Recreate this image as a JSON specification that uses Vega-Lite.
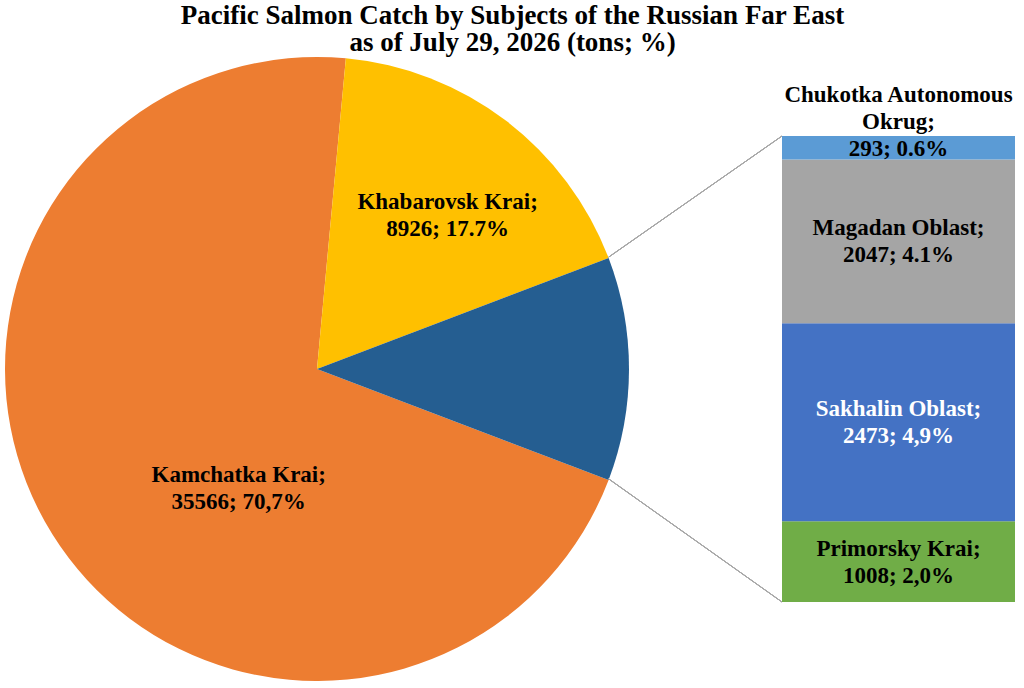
{
  "$schema": "https://vega.github.io/schema/vega-lite/v6.json",
  "description": "Pacific salmon catch by subjects of the Russian Far East, pie of bar.",
  "background": "white",
  "padding": {"left": 0, "top": 2, "right": 0, "bottom": 0},
  "title": {
    "text": ["Pacific Salmon Catch by Subjects of the Russian Far East", "as of July 29, 2026 (tons; %)"],
    "font": "Liberation Serif",
    "fontSize": 27,
    "fontWeight": "bold",
    "color": "black",
    "lineHeight": 27,
    "anchor": "middle",
    "offset": 0,
    "dx": 5
  },
  "datasets": {
    "catch": [
      {"region": "Kamchatka Krai", "tons": 35566, "share": "70,7%"},
      {"region": "Khabarovsk Krai", "tons": 8926, "share": "17.7%"},
      {"region": "Primorsky Krai", "tons": 1008, "share": "2,0%"},
      {"region": "Sakhalin Oblast", "tons": 2473, "share": "4,9%"},
      {"region": "Magadan Oblast", "tons": 2047, "share": "4.1%"},
      {"region": "Chukotka Autonomous Okrug", "tons": 293, "share": "0.6%"}
    ]
  },
  "data": {"name": "catch"},
  "config": {
    "view": {"stroke": null},
    "text": {"font": "Liberation Serif", "fontWeight": "bold", "fontSize": 23, "lineHeight": 27, "baseline": "middle", "align": "center"}
  },
  "spacing": 148,
  "bounds": "flush",
  "center": true,
  "hconcat": [
    {
      "width": 634,
      "height": 624,
      "transform": [
        {"calculate": "indexof(['Kamchatka Krai', 'Khabarovsk Krai'], datum.region) >= 0 ? datum.region : 'Other'", "as": "slice"},
        {"calculate": "datum.slice == 'Other' ? '' : datum.region + ';\\n' + datum.tons + '; ' + datum.share", "as": "label"},
        {"aggregate": [{"op": "sum", "field": "tons", "as": "tons"}], "groupby": ["slice", "label"]},
        {"calculate": "indexof(['Khabarovsk Krai', 'Other', 'Kamchatka Krai'], datum.slice)", "as": "rank"}
      ],
      "encoding": {
        "theta": {"field": "tons", "type": "quantitative", "stack": true, "scale": {"range": [0.0926, 6.3758]}},
        "order": {"field": "rank", "type": "quantitative"},
        "detail": {"field": "slice", "type": "nominal"}
      },
      "layer": [
        {
          "mark": {"type": "arc", "outerRadius": 312},
          "encoding": {
            "color": {
              "field": "slice",
              "type": "nominal",
              "legend": null,
              "scale": {
                "domain": ["Kamchatka Krai", "Khabarovsk Krai", "Other", "Primorsky Krai", "Sakhalin Oblast", "Magadan Oblast", "Chukotka Autonomous Okrug"],
                "range": ["#ED7D31", "#FFC000", "#255E91", "#70AD47", "#4472C4", "#A5A5A5", "#5B9BD5"]
              }
            }
          }
        },
        {
          "mark": {"type": "text", "radius": 201, "dx": 9, "dy": -7, "lineBreak": "\n"},
          "encoding": {
            "text": {"condition": {"test": "datum.slice == 'Khabarovsk Krai'", "field": "label"}, "value": ""},
            "color": {"value": "black"}
          }
        },
        {
          "mark": {"type": "text", "radius": 150, "dx": 49, "dy": 27, "lineBreak": "\n"},
          "encoding": {
            "text": {"condition": {"test": "datum.slice == 'Kamchatka Krai'", "field": "label"}, "value": ""},
            "color": {"value": "black"}
          }
        }
      ]
    },
    {
      "width": 233,
      "height": 466,
      "transform": [
        {"filter": "indexof(['Kamchatka Krai', 'Khabarovsk Krai'], datum.region) < 0"},
        {"calculate": "indexof(['Primorsky Krai', 'Sakhalin Oblast', 'Magadan Oblast', 'Chukotka Autonomous Okrug'], datum.region)", "as": "rank"},
        {"stack": "tons", "groupby": [], "sort": [{"field": "rank", "order": "ascending"}], "as": ["lo", "hi"]},
        {"calculate": "(datum.lo + datum.hi) / 2", "as": "mid"},
        {"calculate": "replace(datum.region, 'Autonomous ', 'Autonomous\\n') + ';\\n' + datum.tons + '; ' + datum.share", "as": "label"}
      ],
      "layer": [
        {
          "mark": {"type": "bar"},
          "encoding": {
            "x": {"datum": 0, "type": "quantitative", "scale": {"domain": [0, 1], "nice": false}, "axis": null},
            "x2": {"datum": 1},
            "y": {"field": "lo", "type": "quantitative", "scale": {"nice": false}, "axis": null},
            "y2": {"field": "hi"},
            "color": {"field": "region", "type": "nominal", "legend": null}
          }
        },
        {
          "transform": [{"filter": "datum.rank < 3"}],
          "mark": {"type": "text", "lineBreak": "\n", "dy": -13},
          "encoding": {
            "x": {"datum": 0.5, "type": "quantitative", "scale": {"domain": [0, 1], "nice": false}, "axis": null},
            "y": {"field": "mid", "type": "quantitative", "axis": null},
            "text": {"field": "label"},
            "color": {"condition": {"test": "datum.region == 'Sakhalin Oblast'", "value": "white"}, "value": "black"}
          }
        },
        {
          "transform": [{"filter": "datum.rank == 3"}],
          "mark": {"type": "text", "lineBreak": "\n", "dy": -53},
          "encoding": {
            "x": {"datum": 0.5, "type": "quantitative", "scale": {"domain": [0, 1], "nice": false}, "axis": null},
            "y": {"field": "mid", "type": "quantitative", "axis": null},
            "text": {"field": "label"},
            "color": {"value": "black"}
          }
        },
        {
          "mark": {"type": "rule", "color": "#A6A6A6", "strokeWidth": 1},
          "encoding": {
            "x": {"datum": -0.744, "type": "quantitative", "scale": {"domain": [0, 1], "nice": false}, "axis": null},
            "y": {"datum": 4308, "type": "quantitative", "axis": null},
            "x2": {"datum": 0},
            "y2": {"datum": 5821}
          }
        },
        {
          "mark": {"type": "rule", "color": "#A6A6A6", "strokeWidth": 1},
          "encoding": {
            "x": {"datum": -0.744, "type": "quantitative", "scale": {"domain": [0, 1], "nice": false}, "axis": null},
            "y": {"datum": 1538, "type": "quantitative", "axis": null},
            "x2": {"datum": 0},
            "y2": {"datum": 0}
          }
        }
      ]
    }
  ]
}
